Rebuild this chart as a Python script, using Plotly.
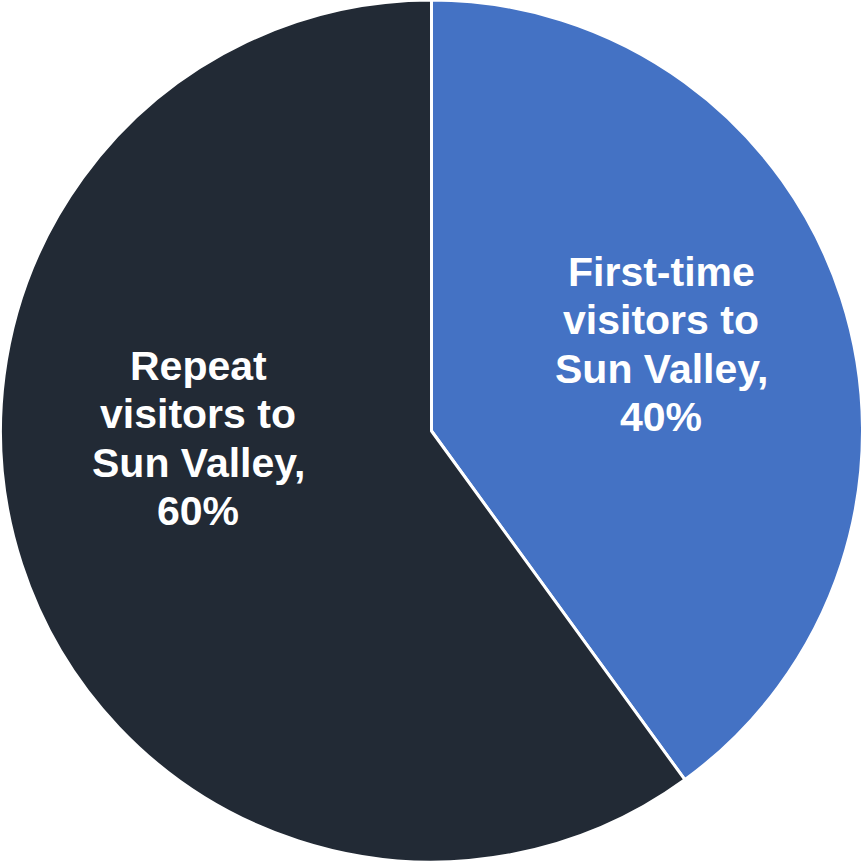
import plotly.graph_objects as go

labels = ["First-time visitors to Sun Valley", "Repeat visitors to Sun Valley"]
label_lines = [["First-time", "visitors to", "Sun Valley,"], ["Repeat", "visitors to", "Sun Valley,"]]
values = [40, 60]
colors = ["#4472C4", "#222A35"]

W, H = 863, 862
fig = go.Figure(go.Pie(
    labels=labels,
    values=values,
    sort=False,
    direction="clockwise",
    rotation=0,
    marker=dict(colors=colors, line=dict(color="white", width=3)),
    textinfo="none",
    hoverinfo="label+percent",
    showlegend=False,
))

# label text blocks (center x in px, first-line cap-middle y in px)
label_pos = [(661, 272), (198, 366)]
line_gap = 48.4
total = sum(values)
annotations = []
for (cx, cy), lines, v in zip(label_pos, label_lines, values):
    all_lines = lines + [f"{round(v / total * 100)}%"]
    for i, t in enumerate(all_lines):
        y_px = cy + i * line_gap
        annotations.append(dict(
            x=cx / W, y=1 - y_px / H, xref="paper", yref="paper",
            text=t, showarrow=False, xanchor="center", yanchor="middle",
            font=dict(family="Liberation Sans, Arial, sans-serif", size=41, color="white", weight="bold"),
        ))

fig.update_layout(
    width=W, height=H,
    margin=dict(l=0, r=0, t=0, b=0),
    paper_bgcolor="white",
    plot_bgcolor="white",
    annotations=annotations,
)
fig.write_html("out.html", config={"displayModeBar": False},
               post_script="document.body.style.margin='0';")
